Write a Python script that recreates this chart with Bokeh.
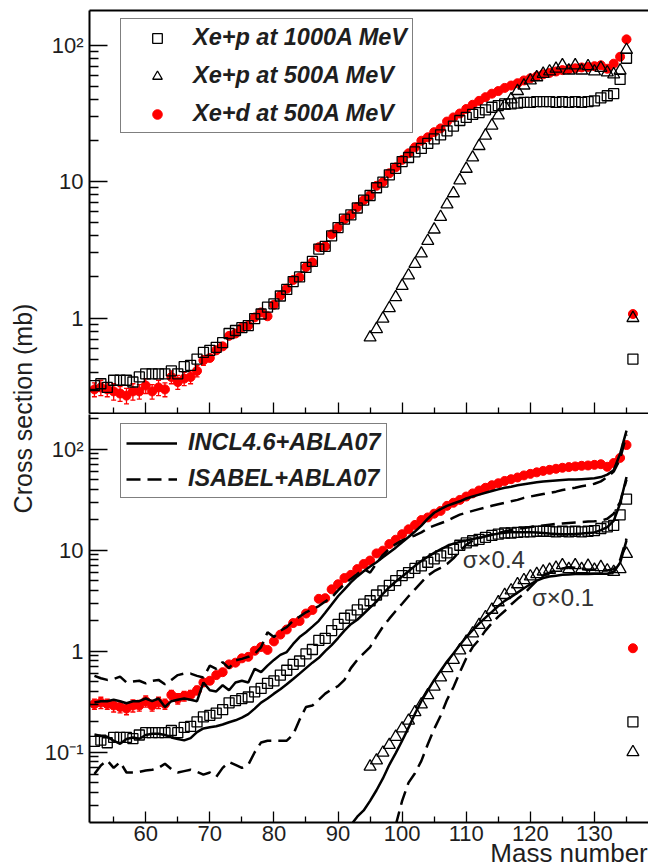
import math
from bokeh.plotting import figure
from bokeh.models import (Range1d, FixedTicker, CustomJSTickFormatter, Legend, LegendItem,
                          Label, LinearAxis, Whisker, TeeHead, ColumnDataSource)
from bokeh.layouts import row, column
from bokeh.embed import file_html
from bokeh.resources import INLINE

# ---------------- data ----------------
mass_main = list(range(52, 137))          # Xe+p 1000A MeV and Xe+d 500A MeV
xs_p1000 = [0.32, 0.33, 0.31, 0.35, 0.35, 0.35, 0.34, 0.37, 0.39, 0.39,
            0.39, 0.39, 0.41, 0.39, 0.44, 0.45, 0.50, 0.56, 0.58, 0.61,
            0.66, 0.77, 0.81, 0.85, 0.88, 0.99, 1.07, 1.20, 1.27, 1.45,
            1.62, 1.85, 2.0, 2.35, 2.6, 3.2, 3.35, 4.0, 4.6, 5.3,
            5.7, 6.4, 7.3, 7.9, 9.0, 9.9, 11.2, 12.5, 14.0, 15.0,
            16.5, 17.5, 19.0, 20.5, 22.0, 23.5, 25.5, 28, 29.5, 31,
            32, 33.5, 35, 36, 37, 37, 37.5, 38, 38, 38.5,
            38.5, 38.5, 38, 38.5, 38, 38.5, 38, 38.5, 39, 41,
            42.5, 44, 56, 80, 0.5]
xs_d500 = [0.30, 0.31, 0.30, 0.29, 0.28, 0.27, 0.29, 0.29, 0.32, 0.29,
           0.31, 0.30, 0.37, 0.34, 0.36, 0.37, 0.41, 0.49, 0.51, 0.58,
           0.62, 0.74, 0.77, 0.85, 0.88, 1.01, 1.10, 1.03, 1.25, 1.46,
           1.64, 1.90, 1.99, 2.36, 2.56, 3.3, 3.35, 4.1, 4.6, 5.3,
           5.7, 6.5, 7.3, 7.9, 9.3, 9.9, 11.5, 12.7, 14.4, 16.1,
           17.8, 19.9, 21.1, 23.0, 24.5, 27.5, 29.5, 31.5, 34, 36.5,
           39, 41.5, 44, 46, 48.5, 50.5, 52.5, 55, 57, 59,
           61, 62.5, 64, 65.5, 66.5, 67.5, 68.5, 69, 70, 71,
           67, 73, 82, 110, 1.07]
mass_err = list(range(52, 70))
xs_d500_err = [0.035, 0.04, 0.035, 0.04, 0.035, 0.035, 0.04, 0.035, 0.04, 0.035,
               0.04, 0.035, 0.04, 0.04, 0.04, 0.04, 0.04, 0.04]

mass_p500 = list(range(95, 137))          # Xe+p 500A MeV
xs_p500 = [0.72, 0.83, 0.99, 1.18, 1.42, 1.72, 2.05, 2.49, 2.97, 3.67,
           4.45, 5.5, 6.8, 8.2, 10.2, 12.4, 15.0, 18.2, 21.7, 25.7,
           30.5, 36, 40, 46, 50.5, 55, 58, 61.5, 64, 67,
           71, 65, 71, 65, 70, 64, 68, 63, 61, 65,
           92, 1.0]

scale_p1000 = 0.4   # sigma x 0.4 in lower panel
scale_p500 = 0.1    # sigma x 0.1 in lower panel

# model curves as drawn in the lower panel
mass_model = list(range(52, 136))
incl_d500 = [0.31, 0.32, 0.32, 0.33, 0.32, 0.305, 0.32, 0.32, 0.34, 0.32,
             0.34, 0.28, 0.32, 0.33, 0.34, 0.33, 0.32, 0.49, 0.41, 0.40,
             0.46, 0.41, 0.49, 0.51, 0.49, 0.67, 0.62, 0.72, 0.82, 0.92,
             0.98, 1.18, 1.38, 1.54, 1.75, 2.0, 2.4, 2.9, 3.5, 4.1,
             4.8, 5.5, 6.2, 6.9, 7.6, 8.5, 9.5, 10.6, 12.0, 13.5,
             15.3, 17.5, 20.5, 23.5, 25.5, 27.5, 29, 30.5, 32.5, 34,
             35.5, 37, 38.5, 40, 41.5, 42.5, 44, 45, 46, 47,
             48, 48.5, 49, 49.5, 50, 50, 50.5, 51, 51.5, 53,
             56, 62, 90, 153]
isabel_d500 = [0.57, 0.54, 0.52, 0.53, 0.56, 0.49, 0.50, 0.51, 0.48, 0.51,
               0.52, 0.47, 0.52, 0.58, 0.60, 0.60, 0.57, 0.55, 0.72, 0.67,
               0.78, 0.68, 0.81, 0.84, 0.88, 0.94, 1.10, 1.54, 1.38, 1.60,
               1.73, 2.0, 2.2, 2.43, 2.6, 2.8, 3.1, 3.4, 4.0, 4.6,
               5.2, 5.8, 6.5, 6.0, 7.4, 9.0, 10.3, 11.5, 12.5, 13.3,
               14.0, 15.0, 16.5, 17.5, 18.5, 19.5, 21, 22.5, 23.5, 24.5,
               25.5, 26.5, 27.5, 28.5, 29.5, 30.5, 31.5, 33, 34, 35,
               36, 37, 38, 39.5, 40.5, 41.5, 43, 44, 45.5, 48,
               53, 60, 80, 140]
incl_p1000_x04 = [0.150, 0.145, 0.142, 0.130, 0.121, 0.135, 0.140, 0.136, 0.148, 0.152,
                  0.152, 0.148, 0.140, 0.135, 0.131, 0.138, 0.158, 0.172, 0.177, 0.181,
                  0.188, 0.198, 0.207, 0.220, 0.238, 0.270, 0.310, 0.340, 0.380, 0.420,
                  0.470, 0.530, 0.600, 0.680, 0.770, 0.860, 1.00, 1.15, 1.35, 1.60,
                  1.85, 2.05, 2.35, 2.70, 3.10, 3.70, 4.30, 4.90, 5.50, 6.20,
                  7.00, 7.80, 8.60, 9.40, 10.2, 11.0, 11.6, 12.1, 12.5, 12.9,
                  13.3, 13.7, 14.2, 14.6, 14.9, 15.1, 15.1, 15.1, 15.1, 15.0,
                  14.8, 14.6, 14.5, 14.4, 14.4, 14.5, 14.6, 14.8, 15.0, 15.8,
                  16.9, 19.5, 29, 53]
isabel_p1000_x04 = [0.061, 0.074, 0.083, 0.070, 0.080, 0.063, 0.063, 0.064, 0.066, 0.067,
                    0.070, 0.077, 0.068, 0.063, 0.065, 0.067, 0.064, 0.060, 0.063, 0.057,
                    0.070, 0.080, 0.075, 0.070, 0.075, 0.100, 0.125, 0.130, 0.130, 0.130,
                    0.130, 0.150, 0.210, 0.280, 0.290, 0.330, 0.380, 0.420, 0.450, 0.520,
                    0.680, 0.820, 0.950, 1.10, 1.40, 1.75, 2.10, 2.50, 2.95, 3.50,
                    4.10, 4.80, 5.60, 6.20, 6.70, 7.30, 8.30, 9.80, 11.3, 12.4,
                    13.2, 13.8, 14.3, 14.8, 15.3, 15.8, 16.2, 16.6, 17.0, 17.3,
                    17.6, 17.9, 18.2, 18.4, 18.6, 18.8, 19.0, 19.2, 19.3, 19.6,
                    20.5, 23, 30, 50]
mass_incl_p500 = list(range(92, 136))
incl_p500_x01 = [0.019, 0.023, 0.0265, 0.033, 0.042, 0.055, 0.075, 0.098, 0.13, 0.175,
                 0.24, 0.32, 0.41, 0.52, 0.64, 0.79, 0.95, 1.15, 1.38, 1.62,
                 1.88, 2.15, 2.45, 2.8, 3.15, 3.45, 3.8, 4.2, 4.6, 5.0,
                 5.3, 5.5, 5.6, 5.7, 5.75, 5.8, 5.8, 5.8, 5.85, 5.85,
                 5.85, 6.1, 7.5, 12.5]
mass_isabel_p500 = list(range(99, 136))
isabel_p500_x01 = [0.019, 0.033, 0.05, 0.062, 0.082, 0.12, 0.17, 0.23, 0.33, 0.44,
                   0.62, 0.85, 1.1, 1.3, 1.6, 1.9, 2.2, 2.5, 2.9, 3.3,
                   3.7, 4.3, 5.0, 5.6, 6.0, 6.3, 6.6, 6.8, 6.7, 6.5,
                   6.4, 6.4, 6.3, 6.3, 6.5, 8.0, 13]

x_major = [60, 70, 80, 90, 100, 110, 120, 130]
x_minor = [55, 65, 75, 85, 95, 105, 115, 125, 135]

# ---------------- styling ----------------
FONT = "Liberation Sans"
TXT = "#1e1e1e"
RED = "#ff0000"
DASH = "14 7"
LEG_FS = "23.5px"
NBSP = "\u00a0"


def log_minor(lo_exp, hi_exp):
    return [m * 10.0 ** e for e in range(lo_exp, hi_exp + 1) for m in range(2, 10)]


fmt = CustomJSTickFormatter(code="""
if (tick > 50) { return "10²"; }
if (tick > 5) { return "10"; }
if (tick > 0.5) { return "1"; }
return "10⁻¹";
""")
blank_fmt = CustomJSTickFormatter(code="return '';")


def style(p, y_major, y_minor, xlabels):
    p.xgrid.visible = False
    p.ygrid.visible = False
    p.outline_line_color = None
    p.background_fill_color = "white"
    p.border_fill_color = "white"
    xa = p.xaxis[0]
    xa.ticker = FixedTicker(ticks=x_major, minor_ticks=x_minor)
    xa.major_tick_in = 11
    xa.major_tick_out = 0
    xa.minor_tick_in = 6
    xa.minor_tick_out = 0
    xa.axis_line_width = 2
    xa.major_tick_line_width = 1.3
    xa.minor_tick_line_width = 1.3
    if xlabels:
        xa.major_label_text_font = FONT
        xa.major_label_text_font_size = "22px"
        xa.major_label_text_color = TXT
        xa.major_label_standoff = 3
    else:
        xa.formatter = blank_fmt
        xa.major_label_text_font_size = "0px"
        xa.major_label_standoff = 0
    ya = p.yaxis[0]
    ya.ticker = FixedTicker(ticks=y_major, minor_ticks=y_minor)
    ya.formatter = fmt
    ya.major_tick_in = 18
    ya.major_tick_out = 0
    ya.minor_tick_in = 9
    ya.minor_tick_out = 0
    ya.axis_line_width = 2
    ya.major_tick_line_width = 1.3
    ya.minor_tick_line_width = 1.3
    ya.major_label_text_font = FONT
    ya.major_label_text_font_size = "22px"
    ya.major_label_text_color = TXT
    ya.major_label_standoff = 6


# ---------------- top panel ----------------
p1 = figure(frame_width=559, frame_height=403, x_range=Range1d(51.23, 138.43),
            y_range=Range1d(0.1998, 179.0), y_axis_type="log",
            output_backend="svg", toolbar_location=None,
            min_border_left=49, min_border_right=0, min_border_top=10, min_border_bottom=1)
style(p1, [1, 10, 100], log_minor(-1, 1), False)
p1.add_layout(LinearAxis(ticker=FixedTicker(ticks=[]), formatter=blank_fmt,
                         major_label_text_font_size="0px",
                         major_label_standoff=0, major_tick_in=0, major_tick_out=0,
                         minor_tick_in=0, minor_tick_out=0, axis_line_width=2), "above")

err_src = ColumnDataSource(dict(
    A=mass_err,
    lo=[v - e for v, e in zip(xs_d500[:len(mass_err)], xs_d500_err)],
    hi=[v + e for v, e in zip(xs_d500[:len(mass_err)], xs_d500_err)]))

p1.add_layout(Whisker(source=err_src, base="A", lower="lo", upper="hi", dimension="height",
                      line_color=RED, line_width=1.3,
                      lower_head=TeeHead(size=5, line_color=RED, line_width=1.3),
                      upper_head=TeeHead(size=5, line_color=RED, line_width=1.3)))
r_d = p1.scatter(mass_main, xs_d500, marker="circle", size=9, fill_color=RED, line_color=RED)
r_p1 = p1.scatter(mass_main, xs_p1000, marker="square", size=10, fill_color=None,
                  line_color="black", line_width=1.3)
r_p5 = p1.scatter(mass_p500, xs_p500, marker="triangle", size=12, fill_color=None,
                  line_color="black", line_width=1.3)

leg1 = Legend(items=[LegendItem(label="Xe+p at 1000A MeV", renderers=[r_p1]),
                     LegendItem(label="Xe+p at 500A MeV", renderers=[r_p5]),
                     LegendItem(label="Xe+d at 500A MeV", renderers=[r_d])],
              location=(31, 280), padding=5, spacing=11, label_height=26, glyph_height=24,
              glyph_width=62, label_standoff=5, border_line_color="black",
              border_line_width=1.5, background_fill_alpha=1.0,
              label_text_font=FONT, label_text_font_style="bold italic",
              label_text_font_size=LEG_FS, label_text_color=TXT)
p1.add_layout(leg1)

# ---------------- bottom panel ----------------
p2 = figure(frame_width=559, frame_height=408, x_range=p1.x_range,
            y_range=Range1d(0.02014, 220.6), y_axis_type="log",
            output_backend="svg", toolbar_location=None,
            min_border_left=49, min_border_right=0, min_border_top=0, min_border_bottom=45)
style(p2, [0.1, 1, 10, 100], log_minor(-2, 2), True)

# the axis title is centred on the frame's right end: trailing no-break spaces
# shift the visible words so that they end at the right edge
xa2 = p2.xaxis[0]
xa2.axis_label = "Mass number" + NBSP * 22
xa2.axis_label_text_font = FONT
xa2.axis_label_text_font_size = "26px"
xa2.axis_label_text_font_style = "normal"
xa2.axis_label_text_color = TXT
xa2.axis_label_standoff = -6
xa2.axis_label_align = "end"

p2.add_layout(Whisker(source=err_src, base="A", lower="lo", upper="hi", dimension="height",
                      line_color=RED, line_width=1.3,
                      lower_head=TeeHead(size=5, line_color=RED, line_width=1.3),
                      upper_head=TeeHead(size=5, line_color=RED, line_width=1.3)))
p2.scatter(mass_main, xs_d500, marker="circle", size=9, fill_color=RED, line_color=RED)
p2.scatter(mass_main, [v * scale_p1000 for v in xs_p1000], marker="square", size=10,
           fill_color=None, line_color="black", line_width=1.3)
p2.scatter(mass_p500, [v * scale_p500 for v in xs_p500], marker="triangle", size=12,
           fill_color=None, line_color="black", line_width=1.3)

r_incl = p2.line(mass_model, incl_d500, line_color="black", line_width=2.5)
r_isa = p2.line(mass_model, isabel_d500, line_color="black", line_width=2.5, line_dash=DASH)
p2.line(mass_model, incl_p1000_x04, line_color="black", line_width=2.5)
p2.line(mass_model, isabel_p1000_x04, line_color="black", line_width=2.5, line_dash=DASH)
p2.line(mass_incl_p500, incl_p500_x01, line_color="black", line_width=2.5)
p2.line(mass_isabel_p500, isabel_p500_x01, line_color="black", line_width=2.5, line_dash=DASH)

p2.add_layout(Label(x=109.45, y=8.1, text="σ×0.4", text_font=FONT, text_font_size="24px",
                    text_color="#333333", text_baseline="middle", text_align="left"))
p2.add_layout(Label(x=120.25, y=3.43, text="σ×0.1", text_font=FONT, text_font_size="24px",
                    text_color="#333333", text_baseline="middle", text_align="left"))

leg2 = Legend(items=[LegendItem(label="INCL4.6+ABLA07", renderers=[r_incl]),
                     LegendItem(label="ISABEL+ABLA07", renderers=[r_isa])],
              location=(31, 324), padding=5, spacing=9, label_height=22, glyph_height=22,
              glyph_width=51, label_standoff=11, border_line_color="black",
              border_line_width=1.5, background_fill_alpha=1.0,
              label_text_font=FONT, label_text_font_style="bold italic",
              label_text_font_size=LEG_FS, label_text_color=TXT)
p2.add_layout(leg2)

# ---------------- y title column ----------------
p0 = figure(width=40, height=867, x_range=Range1d(0, 1), y_range=Range1d(0, 1),
            output_backend="svg", toolbar_location=None, min_border=0,
            x_axis_location=None, y_axis_location=None)
p0.xgrid.visible = False
p0.ygrid.visible = False
p0.outline_line_color = None
p0.add_layout(Label(x=22, y=459, x_units="screen", y_units="screen",
                    text="Cross section (mb)", angle=math.pi / 2, text_font=FONT,
                    text_font_size="25px", text_color=TXT,
                    text_align="center", text_baseline="middle"))

layout = row(p0, column(p1, p2, spacing=0), spacing=0)

open("out.html", "w", encoding="utf-8").write(file_html(layout, INLINE))
